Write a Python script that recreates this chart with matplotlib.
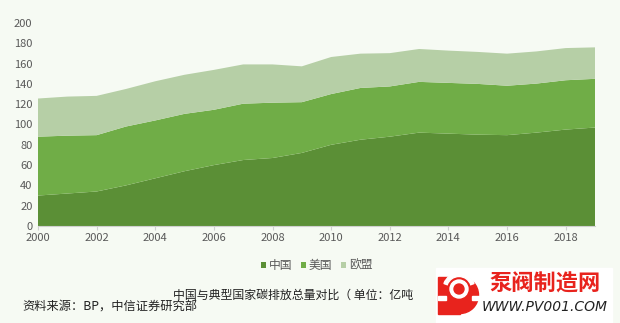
import numpy as np
import matplotlib.pyplot as plt
from matplotlib.patches import Rectangle, Circle, Wedge

plt.rcParams['font.family'] = ['Noto Sans CJK SC', 'DejaVu Sans']

years = list(range(2000, 2020))
china = [30, 32, 34, 40, 47, 54, 60, 65, 67, 72, 80, 85, 88, 92, 91, 90, 89.5, 92, 95, 97]
usa = [58, 57, 55.5, 58, 57, 56.5, 54.5, 55.5, 54.5, 50, 50, 51, 49.5, 50, 50, 50, 48.7, 48.3, 48.6, 48]
eu = [37.6, 38.5, 38.7, 37, 38.6, 38.5, 39.3, 38.7, 37.7, 35.3, 36.5, 33.8, 32.8, 32.4, 31.8, 31.5, 31.6, 31.7, 31.7, 31]
names = ["中国", "美国", "欧盟"]
colors = ["#5b8f36", "#70ad47", "#b6cfa6"]

BG = "#f6faf3"
RED = "#e8231d"
fig = plt.figure(figsize=(6.2, 3.23), dpi=100, facecolor=BG)
ax = fig.add_axes([38 / 620, 1 - 226 / 323, 557 / 620, 203 / 323], facecolor=BG)

ax.stackplot(years, china, usa, eu, colors=colors, labels=names, lw=0)
ax.set_xlim(2000, 2019)
ax.set_ylim(0, 200)
ax.set_xticks(range(2000, 2019, 2))
ax.set_yticks(range(0, 201, 20))
for s in ["top", "right", "left"]:
    ax.spines[s].set_visible(False)
ax.spines["bottom"].set_color("#d0d0d0")
ax.tick_params(axis="y", length=0, labelsize=8, labelcolor="#595959", pad=4)
ax.tick_params(axis="x", length=3, color="#d0d0d0", labelsize=8, labelcolor="#595959", pad=2)

ax.legend(loc="upper center", bbox_to_anchor=(0.5, -0.11), ncol=3, frameon=False,
          fontsize=8.5, handlelength=0.45, handleheight=0.45, handletextpad=0.25,
          columnspacing=0.7, labelcolor="#595959")

fig.text(173 / 620, 1 - 295 / 323, "中国与典型国家碳排放总量对比（ 单位：亿吨",
         ha="left", va="center", fontsize=8.6, color="#222222")
fig.text(22 / 620, 1 - 307 / 323, "资料来源：BP，中信证券研究部",
         ha="left", va="center", fontsize=8.8, color="#222222")

# watermark logo
lx = fig.add_axes([0, 0, 1, 1], facecolor="none")
lx.set_xlim(0, 620)
lx.set_ylim(323, 0)
lx.axis("off")
lx.add_patch(Rectangle((436, 268), 176, 55, color="white", zorder=1))
lx.add_patch(Circle((460, 295), 18.5, color=RED, zorder=2))
lx.add_patch(Rectangle((438, 277), 22, 36.5, color=RED, zorder=2))
lx.add_patch(Circle((459, 289), 9, color="white", zorder=3))
lx.add_patch(Circle((459, 289), 5, color=RED, zorder=4))
lx.add_patch(Wedge((459, 289), 16, 200, 340, width=3.5, color="white", zorder=3))
lx.add_patch(Rectangle((438, 296), 8, 3.5, color="white", zorder=3))
lx.add_patch(Rectangle((472, 296), 8, 3.5, color="white", zorder=3))
lx.text(545, 284, "泵阀制造网", ha="center", va="center", fontsize=16,
        fontweight="bold", color=RED, zorder=4)
lx.text(545, 307, "WWW.PV001.COM", ha="center", va="center", fontsize=10,
        style="italic", color="#222222", family="DejaVu Sans", zorder=4)

fig.savefig("out.png", dpi=100, facecolor=BG)
